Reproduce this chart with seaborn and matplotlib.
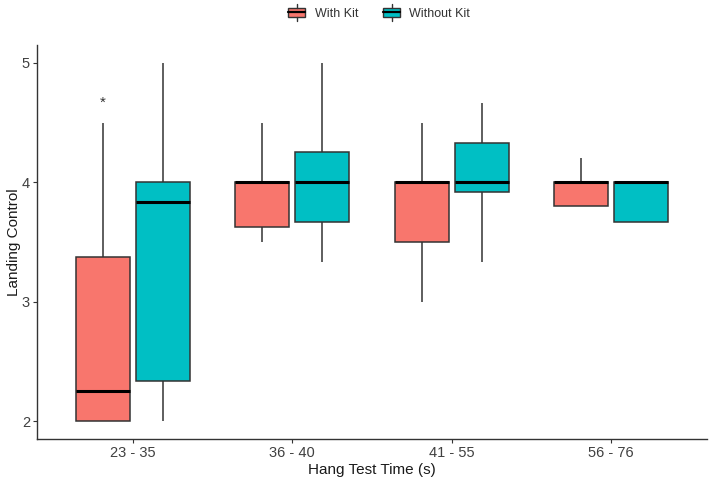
import matplotlib
matplotlib.use("Agg")
import matplotlib.pyplot as plt
import seaborn as sns
import pandas as pd
from matplotlib.patches import Rectangle
from matplotlib.lines import Line2D
from matplotlib.legend_handler import HandlerBase

# Categories and groups
categories = ["23 - 35", "36 - 40", "41 - 55", "56 - 76"]
groups = ["With Kit", "Without Kit"]
colors = ["#F8766D", "#00BFC4"]

# Five-number summaries: [min, Q1, median, Q3, max]
with_kit = [
    [2.0, 2.0, 2.25, 3.375, 4.5],
    [3.5, 3.625, 4.0, 4.0, 4.5],
    [3.0, 3.5, 4.0, 4.0, 4.5],
    [3.8, 3.8, 4.0, 4.0, 4.2],
]
without_kit = [
    [2.0, 2.333, 3.833, 4.0, 5.0],
    [3.333, 3.667, 4.0, 4.25, 5.0],
    [3.333, 3.917, 4.0, 4.333, 4.667],
    [3.667, 3.667, 4.0, 4.0, 4.0],
]
yticks = [2, 3, 4, 5]
annot_value = 4.67  # "*" annotation above first With Kit box

rows = []
for cat, vals in zip(categories, with_kit):
    for v in vals:
        rows.append({"time": cat, "kit": "With Kit", "control": v})
for cat, vals in zip(categories, without_kit):
    for v in vals:
        rows.append({"time": cat, "kit": "Without Kit", "control": v})
df = pd.DataFrame(rows)

sns.set_theme(style="ticks")
plt.rcParams["font.family"] = ["Liberation Sans", "DejaVu Sans"]

fig = plt.figure(figsize=(7.09, 4.82), dpi=100)
ax = fig.add_axes([0.0522, 0.0892, 0.945, 0.8174])

edge = "#333333"
sns.boxplot(
    data=df, x="time", y="control", hue="kit",
    order=categories, hue_order=groups, palette=colors,
    width=0.75, gap=0.1, whis=1.5, saturation=1,
    linecolor=edge, linewidth=1.1,
    medianprops=dict(color="black", linewidth=2.2),
    whiskerprops=dict(color=edge, linewidth=1.1),
    capprops=dict(linewidth=0),
    flierprops=dict(marker="o", markersize=3, markerfacecolor=edge, markeredgecolor=edge),
    ax=ax,
)

# significance annotation
ax.text(0 - 0.1875, annot_value, "*", ha="center", va="center",
        fontsize=11, color="#333333")

ax.set_xlim(-0.6, 3.6)
ax.set_ylim(1.85, 5.15)
ax.set_yticks(yticks)
ax.set_yticklabels([str(t) for t in yticks])
ax.tick_params(axis="both", labelsize=10.5, colors="#333333", length=3, width=0.8,
               labelcolor="#404040", pad=2)
ax.set_xlabel("Hang Test Time (s)", fontsize=11, color="#1a1a1a", labelpad=2)
ax.set_ylabel("Landing Control", fontsize=11, color="#1a1a1a", labelpad=1)
for s in ["top", "right"]:
    ax.spines[s].set_visible(False)
for s in ["left", "bottom"]:
    ax.spines[s].set_color("#333333")
    ax.spines[s].set_linewidth(1.0)


class BoxHandler(HandlerBase):
    def create_artists(self, legend, orig_handle, xdescent, ydescent,
                       width, height, fontsize, trans):
        color = orig_handle.get_facecolor()
        w = width
        x0 = -xdescent
        y0 = -ydescent
        rect = Rectangle((x0, y0 + height * 0.05), w, height * 0.9,
                         facecolor=color, edgecolor=edge, linewidth=1.0,
                         transform=trans)
        cx = x0 + w / 2
        mid = Line2D([x0, x0 + w], [y0 + height / 2] * 2, color="black",
                     linewidth=1.6, transform=trans)
        top = Line2D([cx, cx], [y0 + height * 0.95, y0 + height * 1.3],
                     color=edge, linewidth=1.0, transform=trans)
        bot = Line2D([cx, cx], [y0 - height * 0.3, y0 + height * 0.05],
                     color=edge, linewidth=1.0, transform=trans)
        return [rect, mid, top, bot]


ax.get_legend().remove()
handles = [Rectangle((0, 0), 1, 1, facecolor=c) for c in colors]
fig.legend(handles, groups, loc="center", bbox_to_anchor=(0.535, 0.972),
           ncol=2, frameon=False, fontsize=9, handler_map={Rectangle: BoxHandler()},
           handlelength=1.35, handleheight=0.9, handletextpad=0.75, columnspacing=2.0,
           labelcolor="#333333")

fig.savefig("out.png", dpi=100)
